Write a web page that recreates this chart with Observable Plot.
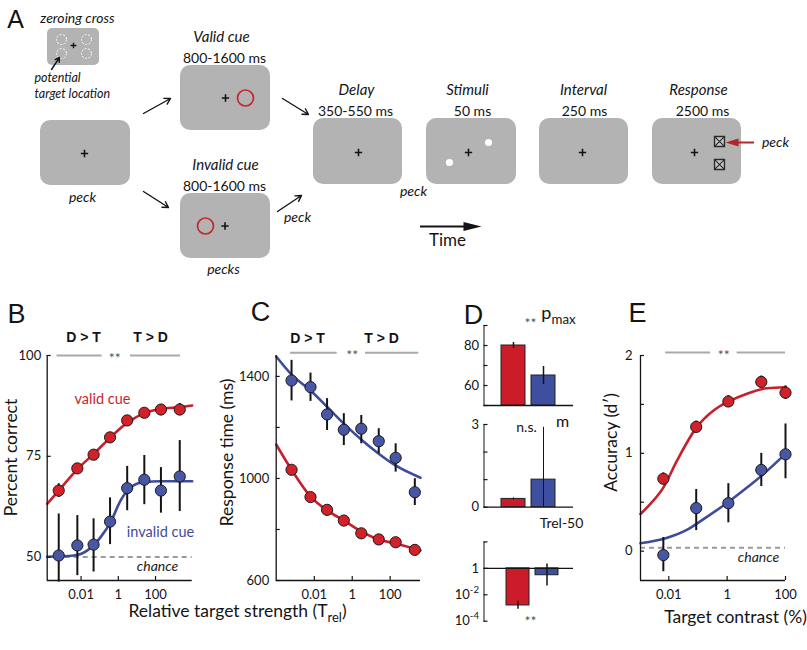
<!DOCTYPE html>
<html><head><meta charset="utf-8">
<script src="https://cdn.jsdelivr.net/npm/d3@7"></script>
<script src="https://cdn.jsdelivr.net/npm/@observablehq/plot@0.6"></script>
<style>
html,body{margin:0;padding:0;background:#fff;}
#fig{position:relative;width:807px;height:650px;overflow:hidden;background:#fff;}
#fig svg{position:absolute;left:0;top:0;}
</style></head><body><div id="fig"></div>
<script>
// ================= DATA =================
// Panel A — task schematic (labels)
const panelLetters = ["A", "B", "C", "D", "E"];
const cueTitles = ["Valid cue", "Invalid cue"];
const cueDurations = ["800-1600 ms", "800-1600 ms"];
const epochTitles = ["Delay", "Stimuli", "Interval", "Response"];
const epochDurations = ["350-550 ms", "50 ms", "250 ms", "2500 ms"];
const peckLabels = ["peck", "pecks", "peck", "peck", "peck"];
const insetLabels = ["zeroing cross", "potential", "target location"];
const timeLabel = "Time";

// Panels B & C — relative target strength levels
const trel = [6.3e-4, 6.3e-3, 0.047, 0.36, 3.0, 25, 195, 2000];
const trelTicks = [0.01, 1, 100];
// B: percent correct
const pcValid = [66.5, 72.0, 75.4, 79.7, 83.9, 85.8, 86.6, 86.6];
const pcValidErr = [1.7, 1.0, 1.0, 1.0, 1.0, 1.0, 1.2, 1.5];
const pcInvalid = [50.4, 52.9, 53.1, 58.8, 67.1, 69.2, 66.5, 70.0];
const pcInvalidLo = [43.8, 45.4, 46.3, 53.1, 61.5, 63.0, 60.9, 61.3];
const pcInvalidHi = [60.7, 60.3, 59.5, 64.7, 72.5, 75.2, 72.2, 78.9];
const pcTicks = [50, 75, 100];
const bValidCurveX = [1.51e-4, 6.3e-4, 6.6e-3, 0.048, 0.38, 3.2, 25.7, 204, 2000, 9330];
const bValidCurveY = [63.2, 66.5, 71.9, 75.6, 79.7, 83.4, 85.7, 86.8, 87.2, 87.6];
const bInvalidCurveX = [1.51e-4, 4.1e-3, 0.021, 0.11, 0.38, 1.32, 4.6, 23.4, 186, 9330];
const bInvalidCurveY = [50.1, 50.4, 51.6, 54.9, 58.6, 64.0, 67.3, 68.6, 68.8, 68.8];
const chancePC = 50;
// C: response time
const rtValid = [1034, 927, 877, 835, 785, 761, 750, 720];
const rtValidErr = [15, 8, 8, 8, 8, 8, 8, 8];
const rtInvalid = [1384, 1358, 1251, 1191, 1195, 1146, 1081, 946];
const rtInvalidLo = [1304, 1302, 1188, 1129, 1136, 1097, 1025, 894];
const rtInvalidHi = [1463, 1413, 1313, 1254, 1247, 1195, 1136, 999];
const rtTicks = [600, 800, 1000, 1200, 1400];
const rtTickLabels = [600, 1000, 1400];
const cValidCurveX = [9.8e-5, 6.3e-4, 6.3e-3, 0.048, 0.36, 3.4, 25, 190, 3980];
const cValidCurveY = [1133, 1034, 929, 875, 835, 790, 761, 745, 718];
const cInvalidCurveX = [9.8e-5, 6.9e-4, 6.3e-3, 0.048, 0.36, 3.4, 25, 190, 3980];
const cInvalidCurveY = [1478, 1404, 1345, 1280, 1215, 1149, 1097, 1051, 1003];

// D: fitted parameters
const conditions = ["valid", "invalid"];
const pmax = [80, 65];
const pmaxErr = [1.5, 4.5];
const pmaxTicks = [50, 60, 70, 80, 90];
const pmaxTickLabels = [60, 80];
const slopeM = [0.3, 1.0];
const slopeLo = [0.26, 0.0];
const slopeHi = [0.34, 2.9];
const slopeTicks = [0, 1, 2, 3];
const slopeTickLabels = [0, 3];
const trel50 = [0.00155, 0.30];
const trel50Lo = [0.0008, 0.046];
const trel50Hi = [0.0032, 2.1];
const trel50Ticks = [1e-4, 1e-2, 1, 100];
const trel50TickLabels = ["10^{-4}", "10^{-2}", "1", ""];

// E: accuracy vs contrast
const contrast = [0.0065, 0.087, 1.1, 14.8, 100];
const dValid = [0.74, 1.27, 1.53, 1.73, 1.62];
const dValidErr = [0.06, 0.06, 0.06, 0.06, 0.07];
const dInvalid = [-0.04, 0.44, 0.49, 0.83, 0.99];
const dInvalidLo = [-0.21, 0.21, 0.29, 0.66, 0.74];
const dInvalidHi = [0.14, 0.63, 0.69, 1.0, 1.30];
const contrastTicks = [0.01, 1, 100];
const dprimeTicks = [0, 0.5, 1, 1.5, 2];
const dprimeTickLabels = [0, 1, 2];
const eValidCurveX = [1.07e-3, 2.3e-3, 6.5e-3, 0.0195, 0.087, 0.35, 1.12, 4.8, 23.4, 100];
const eValidCurveY = [0.38, 0.48, 0.65, 0.93, 1.26, 1.44, 1.53, 1.61, 1.665, 1.675];
const eInvalidCurveX = [1.07e-3, 8.9e-3, 0.043, 0.16, 1.07, 4.8, 17.8, 100];
const eInvalidCurveY = [0.08, 0.137, 0.22, 0.33, 0.50, 0.65, 0.79, 0.995];
const chanceD = 0.035;

// significance annotations (value units)
const sigB = {y: 100, x1: [5.1e-4, 4.5], x2: [0.135, 2190], star: 0.65};
const sigC = {y: 1493, x1: [5.6e-4, 5.0], x2: [0.16, 3240], star: 1.0};
const sigE = {y: 2.03, x1: [0.0078, 2.2], x2: [0.27, 100], star: 0.76};

// text labels
const regionLabels = ["D > T", "T > D"];
const cueLabels = ["valid cue", "invalid cue"];
const chanceLabel = "chance";
const sigLabel = "**";
const nsLabel = "n.s.";
const axisTitles = ["Percent correct", "Relative target strength (T_{rel})", "Response time (ms)", "Accuracy (d′)", "Target contrast (%)"];
const dParamLabels = ["p_{max}", "m", "Trel-50"];

// ================= STYLE / LAYOUT =================
const W = 807, H = 650;
const FONT = "Lato, 'Noto Sans', sans-serif";
const RED = "#c71f2b", BLUE = "#3d4c9a";
const RED_DOT = "#d3212a", BLUE_DOT = "#4856a6";
const RED_BAR = "#cc1c2a", BLUE_BAR = "#3f4f9f";
const SCREEN = "#b3b3b3";
const SIG = "#a9a9a9";
const INK = "#141414";
const STYLE = {background: "transparent", overflow: "visible", maxWidth: "none", fontFamily: FONT, fontSize: "13px", color: INK};
const lg = e => Math.pow(10, e);

function richify(svg) {
  d3.select(svg).selectAll("text").each(function () {
    const el = this;
    if (el.querySelector("tspan")) return;
    const s = el.textContent;
    if (!/[_^]\{/.test(s)) return;
    const parts = s.split(/([_^]\{[^}]*\})/).filter(p => p.length);
    el.textContent = "";
    let cur = 0;
    for (const p of parts) {
      const m = /^([_^])\{([^}]*)\}$/.exec(p);
      const shift = m ? (m[1] === "_" ? 5 : -6) : 0;
      const t = d3.select(el).append("tspan").text(m ? m[2] : p);
      if (shift !== cur) t.attr("dy", shift - cur);
      if (m) t.attr("font-size", "0.74em");
      cur = shift;
    }
  });
}
function mount(svg) { richify(svg); document.getElementById("fig").appendChild(svg); }
function frame(l, r, t, b) {
  return {width: W, height: H, marginLeft: l, marginRight: W - r, marginTop: t, marginBottom: H - b, style: STYLE};
}
const yTicksIn = (v, fw) => Plot.ruleY(v, {insetRight: fw - 4, stroke: INK, strokeWidth: 1.2});
const xTicksIn = (v, fh) => Plot.ruleX(v, {insetTop: fh - 4, stroke: INK, strokeWidth: 1.2});
function sigMarks(sig) {
  const rows = sig.x1.map((x1, i) => ({x1, x2: sig.x2[i], y: sig.y}));
  return [
    Plot.ruleY(rows, {x1: "x1", x2: "x2", y: "y", stroke: SIG, strokeWidth: 2}),
    Plot.text([{x: sig.star, y: sig.y}], {x: "x", y: "y", text: () => sigLabel, fill: "#555", fontSize: 14, dy: 3})
  ];
}
const curveRows = (xs, ys) => xs.map((x, i) => ({x, y: ys[i]}));
const labelFmt = labels => d => labels.includes(d) ? String(d) : "";

// ================= PANEL B =================
{
  const bX = [lg(-3.82), lg(3.97)], bY = [44.2, 100];
  const rows = trel.map((t, i) => ({t, v: pcValid[i], vLo: pcValid[i] - pcValidErr[i], vHi: pcValid[i] + pcValidErr[i],
    iv: pcInvalid[i], iLo: pcInvalidLo[i], iHi: pcInvalidHi[i]}));
  mount(Plot.plot({
    ...frame(46.7, 191.7, 355, 580),
    x: {type: "log", domain: bX, ticks: trelTicks, tickFormat: d => String(d), tickSize: 0, tickPadding: 9, label: null},
    y: {domain: bY, ticks: pcTicks, tickSize: 0, tickPadding: 6, label: null},
    marks: [
      Plot.ruleY([chancePC], {stroke: "#9a9a9a", strokeWidth: 2, strokeDasharray: "5,4"}),
      ...sigMarks(sigB),
      Plot.line(curveRows(bValidCurveX, bValidCurveY), {x: "x", y: "y", stroke: RED, strokeWidth: 2.6, curve: "monotone-x"}),
      Plot.line(curveRows(bInvalidCurveX, bInvalidCurveY), {x: "x", y: "y", stroke: BLUE, strokeWidth: 2.6, curve: "monotone-x"}),
      Plot.ruleX(rows, {x: "t", y1: "vLo", y2: "vHi", stroke: INK, strokeWidth: 2}),
      Plot.ruleX(rows, {x: "t", y1: "iLo", y2: "iHi", stroke: INK, strokeWidth: 2}),
      Plot.dot(rows, {x: "t", y: "v", r: 5.6, fill: RED_DOT, stroke: "#1a1a1a", strokeWidth: 1}),
      Plot.dot(rows, {x: "t", y: "iv", r: 5.6, fill: BLUE_DOT, stroke: "#1a1a1a", strokeWidth: 1}),
      Plot.ruleX([bX[0]], {stroke: INK, strokeWidth: 1.3}),
      Plot.ruleY([bY[0]], {stroke: INK, strokeWidth: 1.3}),
      yTicksIn(pcTicks, 145), xTicksIn(trelTicks, 225)
    ]
  }));
}

// ================= PANEL C =================
{
  const cX = [lg(-4.01), lg(3.6)], cY = [600, 1482];
  const rows = trel.map((t, i) => ({t, v: rtValid[i], vLo: rtValid[i] - rtValidErr[i], vHi: rtValid[i] + rtValidErr[i],
    iv: rtInvalid[i], iLo: rtInvalidLo[i], iHi: rtInvalidHi[i]}));
  mount(Plot.plot({
    ...frame(275.7, 420, 355, 580),
    x: {type: "log", domain: cX, ticks: trelTicks, tickFormat: d => String(d), tickSize: 0, tickPadding: 9, label: null},
    y: {domain: cY, ticks: rtTicks, tickFormat: labelFmt(rtTickLabels), tickSize: 0, tickPadding: 7, label: null},
    marks: [
      ...sigMarks(sigC),
      Plot.line(curveRows(cValidCurveX, cValidCurveY), {x: "x", y: "y", stroke: RED, strokeWidth: 2.6, curve: "monotone-x"}),
      Plot.line(curveRows(cInvalidCurveX, cInvalidCurveY), {x: "x", y: "y", stroke: BLUE, strokeWidth: 2.6, curve: "monotone-x"}),
      Plot.ruleX(rows, {x: "t", y1: "vLo", y2: "vHi", stroke: INK, strokeWidth: 2}),
      Plot.ruleX(rows, {x: "t", y1: "iLo", y2: "iHi", stroke: INK, strokeWidth: 2}),
      Plot.dot(rows, {x: "t", y: "v", r: 5.6, fill: RED_DOT, stroke: "#1a1a1a", strokeWidth: 1}),
      Plot.dot(rows, {x: "t", y: "iv", r: 5.6, fill: BLUE_DOT, stroke: "#1a1a1a", strokeWidth: 1}),
      Plot.ruleX([cX[0]], {stroke: INK, strokeWidth: 1.3}),
      Plot.ruleY([cY[0]], {stroke: INK, strokeWidth: 1.3}),
      yTicksIn(rtTicks, 144.3), xTicksIn(trelTicks, 225)
    ]
  }));
}

// ================= PANEL D =================
{
  const band = {type: "band", domain: conditions, paddingInner: 0.19, paddingOuter: 0.56, axis: null};
  const color = {domain: conditions, range: [RED_BAR, BLUE_BAR]};
  const fw = 573 - 483.5;
  // top: p_max
  const top = conditions.map((c, i) => ({c, v: pmax[i], lo: pmax[i] - pmaxErr[i], hi: pmax[i] + pmaxErr[i]}));
  mount(Plot.plot({
    ...frame(483.5, 573, 325, 405),
    x: band, color,
    y: {domain: [50, 90], ticks: pmaxTicks, tickFormat: labelFmt(pmaxTickLabels), tickSize: 0, tickPadding: 5, label: null, line: true},
    marks: [
      Plot.barY(top, {x: "c", y1: () => 50, y2: "v", fill: "c", stroke: "#222", strokeWidth: 1}),
      Plot.ruleX(top, {x: "c", y1: "lo", y2: "hi", stroke: INK, strokeWidth: 1.5}),
      Plot.ruleY([50], {stroke: INK, strokeWidth: 1.3}),
      yTicksIn(pmaxTicks, fw)
    ]
  }));
  // middle: slope m
  const mid = conditions.map((c, i) => ({c, v: slopeM[i], lo: slopeLo[i], hi: slopeHi[i]}));
  mount(Plot.plot({
    ...frame(483.5, 573, 424, 506.7),
    x: band, color,
    y: {domain: [0, 3], ticks: slopeTicks, tickFormat: labelFmt(slopeTickLabels), tickSize: 0, tickPadding: 5, label: null, line: true},
    marks: [
      Plot.barY(mid, {x: "c", y1: () => 0, y2: "v", fill: "c", stroke: "#222", strokeWidth: 1}),
      Plot.ruleX(mid, {x: "c", y1: "lo", y2: "hi", stroke: INK, strokeWidth: 1}),
      Plot.ruleY([0], {stroke: INK, strokeWidth: 1.3}),
      yTicksIn(slopeTicks, fw)
    ]
  }));
  // bottom: Trel-50 (log)
  const bot = conditions.map((c, i) => ({c, v: trel50[i], lo: trel50Lo[i], hi: trel50Hi[i]}));
  mount(Plot.plot({
    ...frame(483.5, 573, 541.4, 620.7),
    x: {type: "band", domain: conditions, paddingInner: 0.22, paddingOuter: 0.61, align: 0.6, axis: null}, color,
    y: {type: "log", domain: [1e-4, 100], ticks: trel50Ticks, tickFormat: d => trel50TickLabels[trel50Ticks.indexOf(d)], tickSize: 0, tickPadding: 5, label: null, line: true},
    marks: [
      Plot.barY(bot, {x: "c", y1: () => 1, y2: "v", fill: "c", stroke: "#222", strokeWidth: 1}),
      Plot.ruleX(bot, {x: "c", y1: "lo", y2: "hi", stroke: INK, strokeWidth: 1.5}),
      Plot.ruleY([1], {stroke: INK, strokeWidth: 1.3}),
      yTicksIn(trel50Ticks, fw)
    ]
  }));
}

// ================= PANEL E =================
{
  const eX = [lg(-2.97), 100], eY = [-0.3, 2];
  const rows = contrast.map((t, i) => ({t, v: dValid[i], vLo: dValid[i] - dValidErr[i], vHi: dValid[i] + dValidErr[i],
    iv: dInvalid[i], iLo: dInvalidLo[i], iHi: dInvalidHi[i]}));
  mount(Plot.plot({
    ...frame(640, 785, 355, 580),
    x: {type: "log", domain: eX, ticks: contrastTicks, tickFormat: d => String(d), tickSize: 0, tickPadding: 9, label: null},
    y: {domain: eY, ticks: dprimeTicks, tickFormat: labelFmt(dprimeTickLabels), tickSize: 0, tickPadding: 8, label: null},
    marks: [
      Plot.ruleY([chanceD], {stroke: "#9a9a9a", strokeWidth: 2, strokeDasharray: "5,4"}),
      ...sigMarks(sigE),
      Plot.line(curveRows(eValidCurveX, eValidCurveY), {x: "x", y: "y", stroke: RED, strokeWidth: 2.6, curve: "monotone-x"}),
      Plot.line(curveRows(eInvalidCurveX, eInvalidCurveY), {x: "x", y: "y", stroke: BLUE, strokeWidth: 2.6, curve: "monotone-x"}),
      Plot.ruleX(rows, {x: "t", y1: "vLo", y2: "vHi", stroke: INK, strokeWidth: 2}),
      Plot.ruleX(rows, {x: "t", y1: "iLo", y2: "iHi", stroke: INK, strokeWidth: 2}),
      Plot.dot(rows, {x: "t", y: "v", r: 5.6, fill: RED_DOT, stroke: "#1a1a1a", strokeWidth: 1}),
      Plot.dot(rows, {x: "t", y: "iv", r: 5.6, fill: BLUE_DOT, stroke: "#1a1a1a", strokeWidth: 1}),
      Plot.ruleX([eX[0]], {stroke: INK, strokeWidth: 1.3}),
      Plot.ruleY([eY[0]], {stroke: INK, strokeWidth: 1.3}),
      yTicksIn(dprimeTicks, 145), xTicksIn(contrastTicks, 225)
    ]
  }));
}

// ================= CANVAS: panel A schematic + annotations =================
{
  const at = (t, p) => ({t, x: p[0], y: p[1]});
  // layout (page px)
  const screens = [
    {x1: 40, x2: 130, y1: 120, y2: 185}, {x1: 180, x2: 270, y1: 65, y2: 130}, {x1: 180, x2: 270, y1: 193, y2: 258},
    {x1: 313, x2: 402, y1: 118, y2: 184}, {x1: 426, x2: 516, y1: 118, y2: 184},
    {x1: 539, x2: 628, y1: 118, y2: 184}, {x1: 652, x2: 741, y1: 118, y2: 184}
  ];
  const zeroScreen = [{x1: 47, x2: 99, y1: 28, y2: 65}];
  const crosses = [[84, 153], [225, 97.5], [224.5, 225.5], [358, 152], [468, 152], [582, 152], [694, 152]].map(p => ({x: p[0], y: p[1]}));
  const dashedRings = [[61, 39], [86, 39], [61, 53], [86, 53]].map(p => ({x: p[0], y: p[1]}));
  const cueRings = [[245, 97.5], [205, 225.5]].map(p => ({x: p[0], y: p[1]}));
  const stimDots = [[449, 162], [488, 142]].map(p => ({x: p[0], y: p[1]}));
  const respBoxes = [[719, 141], [719, 164]].map(p => ({x: p[0], y: p[1]}));
  const arrows = [[51, 69, 59, 57], [143, 113, 170, 98], [143, 191, 168, 207], [282, 98, 308, 114], [277, 211, 301, 195]]
    .map(a => ({x1: a[0], y1: a[1], x2: a[2], y2: a[3]}));
  const shafts = [{x1: 420, x2: 465, y: 226, s: INK}, {x1: 737, x2: 754, y: 142, s: "#b3262b"}];
  const heads = [
    {id: "t", x: 481, y: 226}, {id: "t", x: 463, y: 221.5}, {id: "t", x: 463, y: 230.5}, {id: "t", x: 481, y: 226},
    {id: "r", x: 725, y: 142}, {id: "r", x: 738, y: 138}, {id: "r", x: 738, y: 146}, {id: "r", x: 725, y: 142}
  ];

  const letterRows = panelLetters.map((t, i) => at(t, [[15, 19], [16, 314], [260, 312], [473, 315], [637, 313]][i]));
  const titleRows = [...cueTitles, ...epochTitles].map((t, i) => at(t, [[221, 37], [225, 165], [356, 90], [467, 90], [583, 90], [698, 90]][i]));
  const durRows = [...cueDurations, ...epochDurations].map((t, i) => at(t, [[224, 58], [224, 186], [355, 111], [472, 111], [584, 111], [702, 111]][i]));
  const peckRows = peckLabels.map((t, i) => at(t, [[82, 197], [223, 269], [297, 217], [413, 191], [775, 142]][i]));
  const insetRows = [at(insetLabels[0], [77, 18])];
  const insetLeftRows = [at(insetLabels[1], [34, 77]), at(insetLabels[2], [34, 93])];
  const regionRows = [at(regionLabels[0], [83, 337]), at(regionLabels[1], [150, 337]), at(regionLabels[0], [307, 338]), at(regionLabels[1], [381, 338])];
  const horizTitles = [at(axisTitles[1], [237, 611]), at(axisTitles[4], [735, 617])];
  const vertTitles = [at(axisTitles[0], [11, 457]), at(axisTitles[2], [227, 452]), at(axisTitles[3], [611, 442])];
  const chanceRows = [at(chanceLabel, [157, 566]), at(chanceLabel, [758, 557])];

  const txt = (rows, o) => Plot.text(rows, {x: "x", y: "y", text: "t", fontFamily: FONT, fill: INK, ...o});
  mount(Plot.plot({
    width: W, height: H, margin: 0, style: STYLE,
    x: {domain: [0, W], range: [0, W], axis: null},
    y: {domain: [0, H], range: [0, H], axis: null},
    marks: [
      Plot.rect(zeroScreen, {x1: "x1", x2: "x2", y1: "y1", y2: "y2", rx: 5, fill: SCREEN}),
      Plot.rect(screens, {x1: "x1", x2: "x2", y1: "y1", y2: "y2", rx: 10, fill: SCREEN}),
      Plot.dot([{x: 73, y: 45}], {x: "x", y: "y", symbol: "plus", r: 2, stroke: INK, strokeWidth: 1.4}),
      Plot.dot(crosses, {x: "x", y: "y", symbol: "plus", r: 2.5, stroke: INK, strokeWidth: 1.6}),
      Plot.dot(dashedRings, {x: "x", y: "y", r: 5, stroke: "#fff", strokeWidth: 1, strokeDasharray: "2,1.5", fill: "none"}),
      Plot.dot(cueRings, {x: "x", y: "y", r: 8, stroke: "#c8262c", strokeWidth: 1.7, fill: "none"}),
      Plot.dot(stimDots, {x: "x", y: "y", r: 3.6, fill: "#fff"}),
      Plot.dot(respBoxes, {x: "x", y: "y", symbol: "square", r: 5.6, fill: "#c8c8c8", stroke: "#2a2a2a", strokeWidth: 1.4}),
      Plot.dot(respBoxes, {x: "x", y: "y", symbol: "times", r: 4.3, stroke: "#2a2a2a", strokeWidth: 1.2}),
      Plot.arrow(arrows, {x1: "x1", y1: "y1", x2: "x2", y2: "y2", stroke: INK, strokeWidth: 1.4, headLength: 7}),
      Plot.ruleY(shafts, {x1: "x1", x2: "x2", y: "y", stroke: "s", strokeWidth: 2}),
      Plot.line(heads.filter(d => d.id === "t"), {x: "x", y: "y", fill: INK, stroke: "none"}),
      Plot.line(heads.filter(d => d.id === "r"), {x: "x", y: "y", fill: "#b3262b", stroke: "none"}),
      // text
      txt(letterRows.slice(0, 1), {fontSize: 25, fontFamily: "'Liberation Sans', Arial, sans-serif"}),
      txt(letterRows.slice(1), {fontSize: 27, fontFamily: "'Liberation Sans', Arial, sans-serif"}),
      txt(titleRows, {fontSize: 15, fontStyle: "italic"}),
      txt(durRows, {fontSize: 14}),
      txt(peckRows, {fontSize: 14, fontStyle: "italic"}),
      txt(insetRows, {fontSize: 14, fontStyle: "italic"}),
      txt(insetLeftRows, {fontSize: 12.5, fontStyle: "italic", textAnchor: "start"}),
      txt([at(timeLabel, [447, 240])], {fontSize: 17}),
      txt(regionRows, {fontSize: 14, fontWeight: "bold", fontFamily: "'Liberation Sans', Arial, sans-serif"}),
      txt([at(cueLabels[0], [102, 399])], {fontSize: 14.5, fill: RED}),
      txt([at(cueLabels[1], [160, 532])], {fontSize: 14.5, fill: BLUE}),
      txt(chanceRows, {fontSize: 14, fontStyle: "italic", fill: "#222"}),
      txt(horizTitles, {fontSize: 17.5}),
      txt(vertTitles, {fontSize: 17.5, rotate: -90}),
      txt([at(dParamLabels[0], [558, 313])], {fontSize: 18}),
      txt([at(dParamLabels[1], [562, 421])], {fontSize: 16}),
      txt([at(dParamLabels[2], [561, 523])], {fontSize: 14}),
      txt([at(nsLabel, [526, 427])], {fontSize: 14}),
      txt([at(sigLabel, [530, 323]), at(sigLabel, [530, 621])], {fontSize: 14, fill: "#555"})
    ]
  }));
}
</script></body></html>
